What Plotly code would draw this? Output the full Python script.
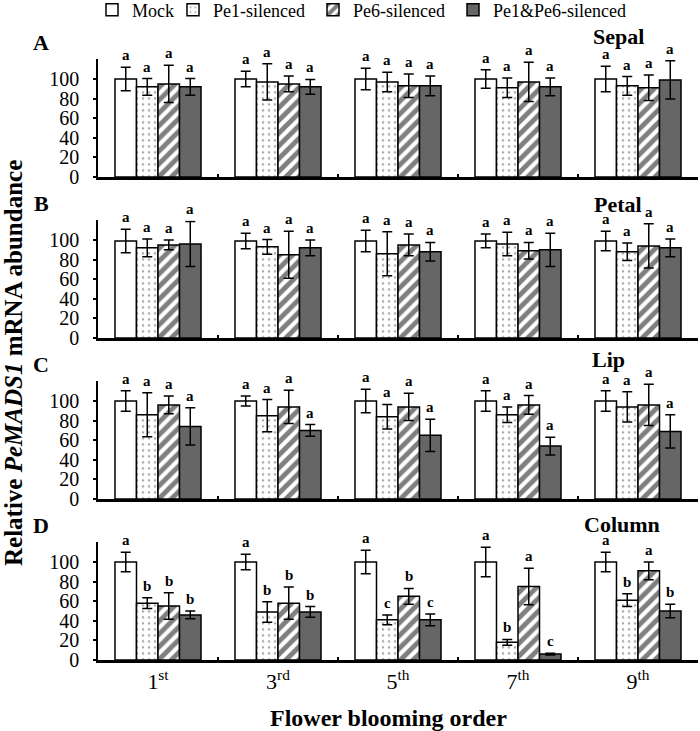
import plotly.graph_objects as go

# ---------------- data ----------------
groups = ["1st", "3rd", "5th", "7th", "9th"]
tick_text = ["1<sup>st</sup>", "3<sup>rd</sup>", "5<sup>th</sup>", "7<sup>th</sup>", "9<sup>th</sup>"]
series_names = ["Mock", "Pe1-silenced", "Pe6-silenced", "Pe1&Pe6-silenced"]
panel_letters = ["A", "B", "C", "D"]
panel_titles = ["Sepal", "Petal", "Lip", "Column"]
y_ticks = [0, 20, 40, 60, 80, 100]

# values per panel: [Mock, Pe1, Pe6, Pe1&Pe6], each over the 5 blooming orders
sepal_mean = [[100, 100, 100, 100, 100], [92, 97, 97, 91, 93], [95, 95, 93, 97, 91], [92, 92, 93, 92, 99]]
sepal_err = [[12, 8, 11, 9.5, 13], [8.5, 18.5, 10, 10, 9.5], [19, 8, 12, 20, 13], [8.5, 7.5, 10, 9, 19.5]]
sepal_sig = [["a"] * 5, ["a"] * 5, ["a"] * 5, ["a"] * 5]

petal_mean = [[99, 99, 99, 99, 99], [92, 93, 86, 96, 88], [95, 85, 95, 89, 94], [96, 92, 88, 90, 92]]
petal_err = [[12, 8, 11, 7, 10], [9, 7.5, 22.5, 12, 9], [5, 24, 11, 8.5, 22.5], [23, 8, 9.5, 17, 9]]
petal_sig = [["a"] * 5, ["a"] * 5, ["a"] * 5, ["a"] * 5]

lip_mean = [[100, 100, 100, 100, 100], [86, 85, 84, 86, 94], [96, 94, 94, 96, 96], [74, 70, 65, 54, 69]]
lip_err = [[10.5, 5, 12, 10.5, 10.5], [22.5, 16.5, 12.5, 8, 15.5], [9, 17, 14, 9.5, 21], [19, 6, 16.5, 9, 17]]
lip_sig = [["a"] * 5, ["a"] * 5, ["a"] * 5, ["a"] * 5]

column_mean = [[100, 100, 100, 100, 100], [58, 49, 41, 18, 61], [55, 58, 65, 75, 91], [46, 49, 41, 6, 50]]
column_err = [[10, 8, 12, 15, 10], [5.5, 10.5, 5, 3, 6.5], [13.5, 16.5, 8, 18.5, 9], [4, 5.5, 6, 1, 7]]
column_sig = [["a"] * 5, ["b", "b", "c", "b", "b"], ["b", "b", "b", "a", "a"], ["b", "b", "c", "c", "b"]]

panels = [
    (sepal_mean, sepal_err, sepal_sig),
    (petal_mean, petal_err, petal_sig),
    (lip_mean, lip_err, lip_sig),
    (column_mean, column_err, column_sig),
]

# ---------------- style ----------------
W, H = 700, 731
ML, MR = 98, 2
PW = W - ML - MR
FONT = "Liberation Serif"
axis_px = [177, 338, 499, 660]       # pixel row of each panel's zero line
panel_h = 117.6                       # pixel height of 0..120
title_px = [(618, 37), (618, 204), (608, 359), (622, 524)]
legend_px = [92, 173, 313, 453]       # left edge of each legend entry
BARGAP = 0.283

def py(p):
    return 1 - p / H

def px(p):
    return (p - ML) / PW

styles = [
    dict(marker=dict(color="white", line=dict(color="black", width=1.5))),
    dict(marker=dict(color="white", line=dict(color="black", width=1.5),
                     pattern=dict(shape=".", fgcolor="#555555", bgcolor="white", size=6, solidity=0.15))),
    dict(marker=dict(color="white", line=dict(color="black", width=1.5),
                     pattern=dict(shape="/", fgcolor="black", bgcolor="white", size=9, solidity=0.55))),
    dict(marker=dict(color="#666666", line=dict(color="black", width=1.5))),
]
legend_ids = ["legend", "legend2", "legend3", "legend4"]

fig = go.Figure()
annotations = []
bw = (1 - BARGAP) / 4

for pi, (means, errs, sigs) in enumerate(panels):
    xa = "x" if pi == 0 else f"x{pi + 1}"
    ya = "y" if pi == 0 else f"y{pi + 1}"
    for si in range(4):
        fig.add_trace(go.Bar(
            x=groups, y=means[si], name=series_names[si],
            xaxis=xa, yaxis=ya, showlegend=(pi == 0), legend=legend_ids[si],
            error_y=dict(type="data", array=errs[si], visible=True, color="black", thickness=1.5, width=5),
            **styles[si]
        ))
        for gi in range(5):
            annotations.append(dict(
                x=gi + (si - 1.5) * bw, y=means[si][gi] + errs[si][gi],
                xref=xa, yref=ya, text=f"<b>{sigs[si][gi]}</b>", showarrow=False,
                yanchor="bottom", yshift=2,
                font=dict(family=FONT, size=15, color="black"),
            ))
    # panel letter
    annotations.append(dict(
        x=px(41), y=py(axis_px[pi] - panel_h - 17), xref="paper", yref="paper",
        text=f"<b>{panel_letters[pi]}</b>", showarrow=False, xanchor="center", yanchor="middle",
        font=dict(family=FONT, size=22, color="black")))
    # panel title
    tx, ty = title_px[pi]
    annotations.append(dict(
        x=px(tx), y=py(ty), xref="paper", yref="paper",
        text=f"<b>{panel_titles[pi]}</b>", showarrow=False, xanchor="center", yanchor="middle",
        font=dict(family=FONT, size=22, color="black")))

# axis titles
annotations.append(dict(
    x=px(13), y=py(363), xref="paper", yref="paper", textangle=-90,
    text="<b>Relative <i>PeMADS1</i> mRNA abundance</b>", showarrow=False,
    xanchor="center", yanchor="middle", font=dict(family=FONT, size=25, color="black")))
annotations.append(dict(
    x=px(388), y=py(718), xref="paper", yref="paper",
    text="<b>Flower blooming order</b>", showarrow=False,
    xanchor="center", yanchor="middle", font=dict(family=FONT, size=24, color="black")))

layout = dict(
    width=W, height=H,
    margin=dict(l=ML, r=MR, t=0, b=0, autoexpand=False),
    paper_bgcolor="white", plot_bgcolor="white",
    barmode="group", bargap=BARGAP, bargroupgap=0,
    font=dict(family=FONT, color="black"),
    annotations=annotations,
)
for li, lid in enumerate(legend_ids):
    layout[lid] = dict(orientation="h", x=legend_px[li] / W, y=1 - 10 / H,
                       xref="container", yref="container",
                       xanchor="left", yanchor="middle",
                       font=dict(family=FONT, size=18, color="black"), itemwidth=30,
                       bgcolor="rgba(0,0,0,0)")

for pi in range(4):
    xk = "xaxis" if pi == 0 else f"xaxis{pi + 1}"
    yk = "yaxis" if pi == 0 else f"yaxis{pi + 1}"
    anchor_y = "y" if pi == 0 else f"y{pi + 1}"
    anchor_x = "x" if pi == 0 else f"x{pi + 1}"
    layout[xk] = dict(
        domain=[0, 1], anchor=anchor_y, type="category", range=[-0.5, 4.5],
        showline=True, linecolor="black", linewidth=2.5, automargin=False,
        ticks="inside", ticklen=3, tickwidth=1.5, tickcolor="black", tickson="boundaries",
        showgrid=False, zeroline=False,
        showticklabels=(pi == 3), tickvals=groups, ticktext=tick_text,
        tickfont=dict(family=FONT, size=22, color="black"),
    )
    layout[yk] = dict(
        domain=[py(axis_px[pi]), py(axis_px[pi] - panel_h)], anchor=anchor_x,
        range=[0, 120], showline=True, linecolor="black", linewidth=1.5, automargin=False,
        ticks="outside", ticklen=3, tickwidth=1.5, tickcolor="black",
        tickvals=y_ticks, showgrid=False, zeroline=False,
        tickfont=dict(family=FONT, size=20, color="black"), ticklabelstandoff=10,
    )

fig.update_layout(**layout)
# remove the browser's default 8px page margin so the figure sits at the window's corner
fig.write_html("out.html", config={"displayModeBar": False},
               post_script="document.body.style.margin='0';")
